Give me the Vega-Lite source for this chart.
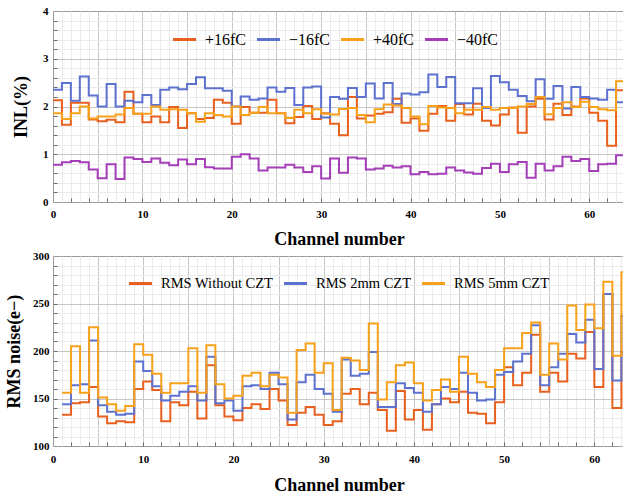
{
  "$schema": "https://vega.github.io/schema/vega-lite/v6.json",
  "padding": {"left": 5, "top": 4, "right": 0, "bottom": 0},
  "background": "white",
  "spacing": 0,
  "resolve": {"scale": {"color": "independent", "x": "independent", "y": "independent"}, "legend": {"color": "independent"}},
  "config": {
    "view": {"stroke": "#9a9a9a", "strokeWidth": 1},
    "axis": {"labelFont": "Liberation Serif", "labelFontWeight": "bold", "labelFontSize": 11, "labelColor": "#000", "titleFont": "Liberation Serif", "titleFontWeight": "bold", "titleFontSize": 18, "titleColor": "#000", "ticks": true, "tickColor": "#6a6a6a", "domain": false, "grid": true, "gridWidth": 1, "labelOverlap": false, "labelFlush": false, "labelBound": false},
    "legend": {"orient": "none", "direction": "horizontal", "title": null, "symbolType": "stroke", "symbolSize": 530, "symbolStrokeWidth": 3, "labelFont": "Liberation Serif", "labelColor": "#000", "labelOffset": 7, "columnPadding": 3, "gridAlign": "none"}
  },
  "datasets": {
    "inl": [
      {"s":"+16fC","ch":0,"v":2.13},{"s":"+16fC","ch":1,"v":1.62},{"s":"+16fC","ch":2,"v":2.08},{"s":"+16fC","ch":3,"v":2.08},{"s":"+16fC","ch":4,"v":1.73},{"s":"+16fC","ch":5,"v":1.69},{"s":"+16fC","ch":6,"v":1.72},{"s":"+16fC","ch":7,"v":1.67},{"s":"+16fC","ch":8,"v":2.31},{"s":"+16fC","ch":9,"v":1.85},
      {"s":"+16fC","ch":10,"v":1.67},{"s":"+16fC","ch":11,"v":1.79},{"s":"+16fC","ch":12,"v":1.67},{"s":"+16fC","ch":13,"v":1.99},{"s":"+16fC","ch":14,"v":1.55},{"s":"+16fC","ch":15,"v":1.86},{"s":"+16fC","ch":16,"v":1.74},{"s":"+16fC","ch":17,"v":1.76},{"s":"+16fC","ch":18,"v":2.14},{"s":"+16fC","ch":19,"v":2.08},
      {"s":"+16fC","ch":20,"v":1.64},{"s":"+16fC","ch":21,"v":1.99},{"s":"+16fC","ch":22,"v":1.87},{"s":"+16fC","ch":23,"v":1.87},{"s":"+16fC","ch":24,"v":2.14},{"s":"+16fC","ch":25,"v":1.86},{"s":"+16fC","ch":26,"v":1.65},{"s":"+16fC","ch":27,"v":1.78},{"s":"+16fC","ch":28,"v":2.01},{"s":"+16fC","ch":29,"v":1.74},
      {"s":"+16fC","ch":30,"v":1.86},{"s":"+16fC","ch":31,"v":1.64},{"s":"+16fC","ch":32,"v":1.40},{"s":"+16fC","ch":33,"v":2.20},{"s":"+16fC","ch":34,"v":1.75},{"s":"+16fC","ch":35,"v":1.81},{"s":"+16fC","ch":36,"v":1.85},{"s":"+16fC","ch":37,"v":1.88},{"s":"+16fC","ch":38,"v":2.16},{"s":"+16fC","ch":39,"v":1.66},
      {"s":"+16fC","ch":40,"v":1.75},{"s":"+16fC","ch":41,"v":1.49},{"s":"+16fC","ch":42,"v":1.85},{"s":"+16fC","ch":43,"v":2.01},{"s":"+16fC","ch":44,"v":1.70},{"s":"+16fC","ch":45,"v":2.05},{"s":"+16fC","ch":46,"v":1.83},{"s":"+16fC","ch":47,"v":2.06},{"s":"+16fC","ch":48,"v":1.70},{"s":"+16fC","ch":49,"v":1.60},
      {"s":"+16fC","ch":50,"v":1.83},{"s":"+16fC","ch":51,"v":1.98},{"s":"+16fC","ch":52,"v":1.45},{"s":"+16fC","ch":53,"v":2.00},{"s":"+16fC","ch":54,"v":2.16},{"s":"+16fC","ch":55,"v":1.73},{"s":"+16fC","ch":56,"v":2.06},{"s":"+16fC","ch":57,"v":1.82},{"s":"+16fC","ch":58,"v":2.00},{"s":"+16fC","ch":59,"v":2.17},
      {"s":"+16fC","ch":60,"v":1.87},{"s":"+16fC","ch":61,"v":1.70},{"s":"+16fC","ch":62,"v":1.18},{"s":"+16fC","ch":63,"v":2.34},{"s":"+16fC","ch":64,"v":2.34},
      {"s":"−16fC","ch":0,"v":2.35},{"s":"−16fC","ch":1,"v":2.49},{"s":"−16fC","ch":2,"v":2.12},{"s":"−16fC","ch":3,"v":2.63},{"s":"−16fC","ch":4,"v":2.23},{"s":"−16fC","ch":5,"v":2.00},{"s":"−16fC","ch":6,"v":2.47},{"s":"−16fC","ch":7,"v":2.00},{"s":"−16fC","ch":8,"v":2.12},{"s":"−16fC","ch":9,"v":2.09},
      {"s":"−16fC","ch":10,"v":2.24},{"s":"−16fC","ch":11,"v":2.03},{"s":"−16fC","ch":12,"v":2.35},{"s":"−16fC","ch":13,"v":2.40},{"s":"−16fC","ch":14,"v":2.36},{"s":"−16fC","ch":15,"v":2.47},{"s":"−16fC","ch":16,"v":2.61},{"s":"−16fC","ch":17,"v":2.38},{"s":"−16fC","ch":18,"v":2.38},{"s":"−16fC","ch":19,"v":2.33},
      {"s":"−16fC","ch":20,"v":2.00},{"s":"−16fC","ch":21,"v":2.21},{"s":"−16fC","ch":22,"v":2.14},{"s":"−16fC","ch":23,"v":2.17},{"s":"−16fC","ch":24,"v":2.40},{"s":"−16fC","ch":25,"v":2.31},{"s":"−16fC","ch":26,"v":2.39},{"s":"−16fC","ch":27,"v":2.03},{"s":"−16fC","ch":28,"v":2.40},{"s":"−16fC","ch":29,"v":2.42},
      {"s":"−16fC","ch":30,"v":1.77},{"s":"−16fC","ch":31,"v":2.20},{"s":"−16fC","ch":32,"v":2.16},{"s":"−16fC","ch":33,"v":2.39},{"s":"−16fC","ch":34,"v":2.20},{"s":"−16fC","ch":35,"v":2.48},{"s":"−16fC","ch":36,"v":2.17},{"s":"−16fC","ch":37,"v":2.49},{"s":"−16fC","ch":38,"v":2.05},{"s":"−16fC","ch":39,"v":2.27},
      {"s":"−16fC","ch":40,"v":2.25},{"s":"−16fC","ch":41,"v":2.30},{"s":"−16fC","ch":42,"v":2.67},{"s":"−16fC","ch":43,"v":2.41},{"s":"−16fC","ch":44,"v":2.62},{"s":"−16fC","ch":45,"v":2.07},{"s":"−16fC","ch":46,"v":2.07},{"s":"−16fC","ch":47,"v":2.38},{"s":"−16fC","ch":48,"v":1.97},{"s":"−16fC","ch":49,"v":2.64},
      {"s":"−16fC","ch":50,"v":2.51},{"s":"−16fC","ch":51,"v":2.35},{"s":"−16fC","ch":52,"v":2.22},{"s":"−16fC","ch":53,"v":2.11},{"s":"−16fC","ch":54,"v":2.57},{"s":"−16fC","ch":55,"v":2.16},{"s":"−16fC","ch":56,"v":2.43},{"s":"−16fC","ch":57,"v":1.96},{"s":"−16fC","ch":58,"v":2.41},{"s":"−16fC","ch":59,"v":2.20},
      {"s":"−16fC","ch":60,"v":2.17},{"s":"−16fC","ch":61,"v":2.14},{"s":"−16fC","ch":62,"v":2.35},{"s":"−16fC","ch":63,"v":2.09},{"s":"−16fC","ch":64,"v":2.09},
      {"s":"+40fC","ch":0,"v":1.86},{"s":"+40fC","ch":1,"v":1.74},{"s":"+40fC","ch":2,"v":1.86},{"s":"+40fC","ch":3,"v":2.00},{"s":"+40fC","ch":4,"v":1.75},{"s":"+40fC","ch":5,"v":1.79},{"s":"+40fC","ch":6,"v":1.79},{"s":"+40fC","ch":7,"v":1.83},{"s":"+40fC","ch":8,"v":1.97},{"s":"+40fC","ch":9,"v":1.85},
      {"s":"+40fC","ch":10,"v":1.85},{"s":"+40fC","ch":11,"v":2.00},{"s":"+40fC","ch":12,"v":1.93},{"s":"+40fC","ch":13,"v":1.94},{"s":"+40fC","ch":14,"v":1.93},{"s":"+40fC","ch":15,"v":1.86},{"s":"+40fC","ch":16,"v":1.68},{"s":"+40fC","ch":17,"v":1.86},{"s":"+40fC","ch":18,"v":1.82},{"s":"+40fC","ch":19,"v":1.79},
      {"s":"+40fC","ch":20,"v":2.00},{"s":"+40fC","ch":21,"v":1.82},{"s":"+40fC","ch":22,"v":1.87},{"s":"+40fC","ch":23,"v":1.99},{"s":"+40fC","ch":24,"v":1.86},{"s":"+40fC","ch":25,"v":1.86},{"s":"+40fC","ch":26,"v":1.76},{"s":"+40fC","ch":27,"v":1.93},{"s":"+40fC","ch":28,"v":1.86},{"s":"+40fC","ch":29,"v":1.94},
      {"s":"+40fC","ch":30,"v":1.85},{"s":"+40fC","ch":31,"v":1.83},{"s":"+40fC","ch":32,"v":1.95},{"s":"+40fC","ch":33,"v":1.97},{"s":"+40fC","ch":34,"v":1.82},{"s":"+40fC","ch":35,"v":1.67},{"s":"+40fC","ch":36,"v":1.94},{"s":"+40fC","ch":37,"v":2.04},{"s":"+40fC","ch":38,"v":2.02},{"s":"+40fC","ch":39,"v":1.97},
      {"s":"+40fC","ch":40,"v":1.79},{"s":"+40fC","ch":41,"v":1.63},{"s":"+40fC","ch":42,"v":2.01},{"s":"+40fC","ch":43,"v":1.98},{"s":"+40fC","ch":44,"v":1.97},{"s":"+40fC","ch":45,"v":1.86},{"s":"+40fC","ch":46,"v":1.93},{"s":"+40fC","ch":47,"v":1.93},{"s":"+40fC","ch":48,"v":1.99},{"s":"+40fC","ch":49,"v":1.93},
      {"s":"+40fC","ch":50,"v":1.97},{"s":"+40fC","ch":51,"v":1.97},{"s":"+40fC","ch":52,"v":2.00},{"s":"+40fC","ch":53,"v":2.05},{"s":"+40fC","ch":54,"v":2.20},{"s":"+40fC","ch":55,"v":1.84},{"s":"+40fC","ch":56,"v":1.97},{"s":"+40fC","ch":57,"v":2.09},{"s":"+40fC","ch":58,"v":1.99},{"s":"+40fC","ch":59,"v":2.10},
      {"s":"+40fC","ch":60,"v":1.99},{"s":"+40fC","ch":61,"v":1.94},{"s":"+40fC","ch":62,"v":1.92},{"s":"+40fC","ch":63,"v":2.53},{"s":"+40fC","ch":64,"v":2.53},
      {"s":"−40fC","ch":0,"v":0.78},{"s":"−40fC","ch":1,"v":0.83},{"s":"−40fC","ch":2,"v":0.86},{"s":"−40fC","ch":3,"v":0.83},{"s":"−40fC","ch":4,"v":0.68},{"s":"−40fC","ch":5,"v":0.50},{"s":"−40fC","ch":6,"v":0.79},{"s":"−40fC","ch":7,"v":0.48},{"s":"−40fC","ch":8,"v":0.93},{"s":"−40fC","ch":9,"v":0.90},
      {"s":"−40fC","ch":10,"v":0.84},{"s":"−40fC","ch":11,"v":0.91},{"s":"−40fC","ch":12,"v":0.82},{"s":"−40fC","ch":13,"v":0.77},{"s":"−40fC","ch":14,"v":0.89},{"s":"−40fC","ch":15,"v":0.79},{"s":"−40fC","ch":16,"v":0.90},{"s":"−40fC","ch":17,"v":0.73},{"s":"−40fC","ch":18,"v":0.70},{"s":"−40fC","ch":19,"v":0.70},
      {"s":"−40fC","ch":20,"v":0.95},{"s":"−40fC","ch":21,"v":1.00},{"s":"−40fC","ch":22,"v":0.91},{"s":"−40fC","ch":23,"v":0.66},{"s":"−40fC","ch":24,"v":0.72},{"s":"−40fC","ch":25,"v":0.72},{"s":"−40fC","ch":26,"v":0.78},{"s":"−40fC","ch":27,"v":0.72},{"s":"−40fC","ch":28,"v":0.63},{"s":"−40fC","ch":29,"v":0.75},
      {"s":"−40fC","ch":30,"v":0.49},{"s":"−40fC","ch":31,"v":0.91},{"s":"−40fC","ch":32,"v":0.61},{"s":"−40fC","ch":33,"v":0.93},{"s":"−40fC","ch":34,"v":0.91},{"s":"−40fC","ch":35,"v":0.68},{"s":"−40fC","ch":36,"v":0.70},{"s":"−40fC","ch":37,"v":0.76},{"s":"−40fC","ch":38,"v":0.72},{"s":"−40fC","ch":39,"v":0.75},
      {"s":"−40fC","ch":40,"v":0.58},{"s":"−40fC","ch":41,"v":0.63},{"s":"−40fC","ch":42,"v":0.58},{"s":"−40fC","ch":43,"v":0.59},{"s":"−40fC","ch":44,"v":0.72},{"s":"−40fC","ch":45,"v":0.66},{"s":"−40fC","ch":46,"v":0.62},{"s":"−40fC","ch":47,"v":0.59},{"s":"−40fC","ch":48,"v":0.71},{"s":"−40fC","ch":49,"v":0.80},
      {"s":"−40fC","ch":50,"v":0.63},{"s":"−40fC","ch":51,"v":0.79},{"s":"−40fC","ch":52,"v":0.84},{"s":"−40fC","ch":53,"v":0.51},{"s":"−40fC","ch":54,"v":0.80},{"s":"−40fC","ch":55,"v":0.66},{"s":"−40fC","ch":56,"v":0.75},{"s":"−40fC","ch":57,"v":0.95},{"s":"−40fC","ch":58,"v":0.86},{"s":"−40fC","ch":59,"v":0.90},
      {"s":"−40fC","ch":60,"v":0.65},{"s":"−40fC","ch":61,"v":0.79},{"s":"−40fC","ch":62,"v":0.80},{"s":"−40fC","ch":63,"v":0.98},{"s":"−40fC","ch":64,"v":0.98}
    ],
    "rms": [
      {"s":"RMS Without CZT","ch":1,"v":133},{"s":"RMS Without CZT","ch":2,"v":145},{"s":"RMS Without CZT","ch":3,"v":146},{"s":"RMS Without CZT","ch":4,"v":162},{"s":"RMS Without CZT","ch":5,"v":131},{"s":"RMS Without CZT","ch":6,"v":124},{"s":"RMS Without CZT","ch":7,"v":126},{"s":"RMS Without CZT","ch":8,"v":125},{"s":"RMS Without CZT","ch":9,"v":160},{"s":"RMS Without CZT","ch":10,"v":168},
      {"s":"RMS Without CZT","ch":11,"v":159},{"s":"RMS Without CZT","ch":12,"v":126},{"s":"RMS Without CZT","ch":13,"v":146},{"s":"RMS Without CZT","ch":14,"v":143},{"s":"RMS Without CZT","ch":15,"v":157},{"s":"RMS Without CZT","ch":16,"v":129},{"s":"RMS Without CZT","ch":17,"v":185},{"s":"RMS Without CZT","ch":18,"v":143},{"s":"RMS Without CZT","ch":19,"v":131},{"s":"RMS Without CZT","ch":20,"v":127},
      {"s":"RMS Without CZT","ch":21,"v":140},{"s":"RMS Without CZT","ch":22,"v":144},{"s":"RMS Without CZT","ch":23,"v":139},{"s":"RMS Without CZT","ch":24,"v":160},{"s":"RMS Without CZT","ch":25,"v":148},{"s":"RMS Without CZT","ch":26,"v":122},{"s":"RMS Without CZT","ch":27,"v":135},{"s":"RMS Without CZT","ch":28,"v":141},{"s":"RMS Without CZT","ch":29,"v":133},{"s":"RMS Without CZT","ch":30,"v":122},
      {"s":"RMS Without CZT","ch":31,"v":126},{"s":"RMS Without CZT","ch":32,"v":155},{"s":"RMS Without CZT","ch":33,"v":160},{"s":"RMS Without CZT","ch":34,"v":144},{"s":"RMS Without CZT","ch":35,"v":156},{"s":"RMS Without CZT","ch":36,"v":138},{"s":"RMS Without CZT","ch":37,"v":116},{"s":"RMS Without CZT","ch":38,"v":158},{"s":"RMS Without CZT","ch":39,"v":128},{"s":"RMS Without CZT","ch":40,"v":138},
      {"s":"RMS Without CZT","ch":41,"v":117},{"s":"RMS Without CZT","ch":42,"v":144},{"s":"RMS Without CZT","ch":43,"v":150},{"s":"RMS Without CZT","ch":44,"v":146},{"s":"RMS Without CZT","ch":45,"v":157},{"s":"RMS Without CZT","ch":46,"v":135},{"s":"RMS Without CZT","ch":47,"v":134},{"s":"RMS Without CZT","ch":48,"v":124},{"s":"RMS Without CZT","ch":49,"v":146},{"s":"RMS Without CZT","ch":50,"v":183},
      {"s":"RMS Without CZT","ch":51,"v":164},{"s":"RMS Without CZT","ch":52,"v":177},{"s":"RMS Without CZT","ch":53,"v":217},{"s":"RMS Without CZT","ch":54,"v":157},{"s":"RMS Without CZT","ch":55,"v":177},{"s":"RMS Without CZT","ch":56,"v":168},{"s":"RMS Without CZT","ch":57,"v":197},{"s":"RMS Without CZT","ch":58,"v":192},{"s":"RMS Without CZT","ch":59,"v":220},{"s":"RMS Without CZT","ch":60,"v":162},
      {"s":"RMS Without CZT","ch":61,"v":260},{"s":"RMS Without CZT","ch":62,"v":140},{"s":"RMS Without CZT","ch":63,"v":199},{"s":"RMS Without CZT","ch":64,"v":199},
      {"s":"RMS 2mm CZT","ch":1,"v":144},{"s":"RMS 2mm CZT","ch":2,"v":164},{"s":"RMS 2mm CZT","ch":3,"v":165},{"s":"RMS 2mm CZT","ch":4,"v":211},{"s":"RMS 2mm CZT","ch":5,"v":143},{"s":"RMS 2mm CZT","ch":6,"v":136},{"s":"RMS 2mm CZT","ch":7,"v":133},{"s":"RMS 2mm CZT","ch":8,"v":134},{"s":"RMS 2mm CZT","ch":9,"v":189},{"s":"RMS 2mm CZT","ch":10,"v":179},
      {"s":"RMS 2mm CZT","ch":11,"v":163},{"s":"RMS 2mm CZT","ch":12,"v":148},{"s":"RMS 2mm CZT","ch":13,"v":153},{"s":"RMS 2mm CZT","ch":14,"v":157},{"s":"RMS 2mm CZT","ch":15,"v":163},{"s":"RMS 2mm CZT","ch":16,"v":148},{"s":"RMS 2mm CZT","ch":17,"v":194},{"s":"RMS 2mm CZT","ch":18,"v":145},{"s":"RMS 2mm CZT","ch":19,"v":148},{"s":"RMS 2mm CZT","ch":20,"v":137},
      {"s":"RMS 2mm CZT","ch":21,"v":163},{"s":"RMS 2mm CZT","ch":22,"v":164},{"s":"RMS 2mm CZT","ch":23,"v":160},{"s":"RMS 2mm CZT","ch":24,"v":177},{"s":"RMS 2mm CZT","ch":25,"v":165},{"s":"RMS 2mm CZT","ch":26,"v":128},{"s":"RMS 2mm CZT","ch":27,"v":167},{"s":"RMS 2mm CZT","ch":28,"v":175},{"s":"RMS 2mm CZT","ch":29,"v":160},{"s":"RMS 2mm CZT","ch":30,"v":155},
      {"s":"RMS 2mm CZT","ch":31,"v":136},{"s":"RMS 2mm CZT","ch":32,"v":191},{"s":"RMS 2mm CZT","ch":33,"v":174},{"s":"RMS 2mm CZT","ch":34,"v":176},{"s":"RMS 2mm CZT","ch":35,"v":199},{"s":"RMS 2mm CZT","ch":36,"v":141},{"s":"RMS 2mm CZT","ch":37,"v":141},{"s":"RMS 2mm CZT","ch":38,"v":166},{"s":"RMS 2mm CZT","ch":39,"v":161},{"s":"RMS 2mm CZT","ch":40,"v":156},
      {"s":"RMS 2mm CZT","ch":41,"v":136},{"s":"RMS 2mm CZT","ch":42,"v":144},{"s":"RMS 2mm CZT","ch":43,"v":162},{"s":"RMS 2mm CZT","ch":44,"v":160},{"s":"RMS 2mm CZT","ch":45,"v":177},{"s":"RMS 2mm CZT","ch":46,"v":156},{"s":"RMS 2mm CZT","ch":47,"v":148},{"s":"RMS 2mm CZT","ch":48,"v":149},{"s":"RMS 2mm CZT","ch":49,"v":175},{"s":"RMS 2mm CZT","ch":50,"v":178},
      {"s":"RMS 2mm CZT","ch":51,"v":189},{"s":"RMS 2mm CZT","ch":52,"v":197},{"s":"RMS 2mm CZT","ch":53,"v":227},{"s":"RMS 2mm CZT","ch":54,"v":164},{"s":"RMS 2mm CZT","ch":55,"v":183},{"s":"RMS 2mm CZT","ch":56,"v":197},{"s":"RMS 2mm CZT","ch":57,"v":218},{"s":"RMS 2mm CZT","ch":58,"v":209},{"s":"RMS 2mm CZT","ch":59,"v":233},{"s":"RMS 2mm CZT","ch":60,"v":181},
      {"s":"RMS 2mm CZT","ch":61,"v":260},{"s":"RMS 2mm CZT","ch":62,"v":169},{"s":"RMS 2mm CZT","ch":63,"v":237},{"s":"RMS 2mm CZT","ch":64,"v":237},
      {"s":"RMS 5mm CZT","ch":1,"v":156},{"s":"RMS 5mm CZT","ch":2,"v":205},{"s":"RMS 5mm CZT","ch":3,"v":156},{"s":"RMS 5mm CZT","ch":4,"v":225},{"s":"RMS 5mm CZT","ch":5,"v":151},{"s":"RMS 5mm CZT","ch":6,"v":144},{"s":"RMS 5mm CZT","ch":7,"v":137},{"s":"RMS 5mm CZT","ch":8,"v":142},{"s":"RMS 5mm CZT","ch":9,"v":207},{"s":"RMS 5mm CZT","ch":10,"v":196},
      {"s":"RMS 5mm CZT","ch":11,"v":176},{"s":"RMS 5mm CZT","ch":12,"v":156},{"s":"RMS 5mm CZT","ch":13,"v":166},{"s":"RMS 5mm CZT","ch":14,"v":166},{"s":"RMS 5mm CZT","ch":15,"v":203},{"s":"RMS 5mm CZT","ch":16,"v":156},{"s":"RMS 5mm CZT","ch":17,"v":206},{"s":"RMS 5mm CZT","ch":18,"v":165},{"s":"RMS 5mm CZT","ch":19,"v":150},{"s":"RMS 5mm CZT","ch":20,"v":153},
      {"s":"RMS 5mm CZT","ch":21,"v":174},{"s":"RMS 5mm CZT","ch":22,"v":177},{"s":"RMS 5mm CZT","ch":23,"v":163},{"s":"RMS 5mm CZT","ch":24,"v":175},{"s":"RMS 5mm CZT","ch":25,"v":172},{"s":"RMS 5mm CZT","ch":26,"v":135},{"s":"RMS 5mm CZT","ch":27,"v":201},{"s":"RMS 5mm CZT","ch":28,"v":208},{"s":"RMS 5mm CZT","ch":29,"v":177},{"s":"RMS 5mm CZT","ch":30,"v":187},
      {"s":"RMS 5mm CZT","ch":31,"v":138},{"s":"RMS 5mm CZT","ch":32,"v":193},{"s":"RMS 5mm CZT","ch":33,"v":190},{"s":"RMS 5mm CZT","ch":34,"v":180},{"s":"RMS 5mm CZT","ch":35,"v":229},{"s":"RMS 5mm CZT","ch":36,"v":149},{"s":"RMS 5mm CZT","ch":37,"v":167},{"s":"RMS 5mm CZT","ch":38,"v":185},{"s":"RMS 5mm CZT","ch":39,"v":188},{"s":"RMS 5mm CZT","ch":40,"v":166},
      {"s":"RMS 5mm CZT","ch":41,"v":148},{"s":"RMS 5mm CZT","ch":42,"v":159},{"s":"RMS 5mm CZT","ch":43,"v":170},{"s":"RMS 5mm CZT","ch":44,"v":157},{"s":"RMS 5mm CZT","ch":45,"v":194},{"s":"RMS 5mm CZT","ch":46,"v":176},{"s":"RMS 5mm CZT","ch":47,"v":167},{"s":"RMS 5mm CZT","ch":48,"v":162},{"s":"RMS 5mm CZT","ch":49,"v":180},{"s":"RMS 5mm CZT","ch":50,"v":203},
      {"s":"RMS 5mm CZT","ch":51,"v":203},{"s":"RMS 5mm CZT","ch":52,"v":219},{"s":"RMS 5mm CZT","ch":53,"v":230},{"s":"RMS 5mm CZT","ch":54,"v":175},{"s":"RMS 5mm CZT","ch":55,"v":208},{"s":"RMS 5mm CZT","ch":56,"v":191},{"s":"RMS 5mm CZT","ch":57,"v":248},{"s":"RMS 5mm CZT","ch":58,"v":222},{"s":"RMS 5mm CZT","ch":59,"v":249},{"s":"RMS 5mm CZT","ch":60,"v":224},
      {"s":"RMS 5mm CZT","ch":61,"v":273},{"s":"RMS 5mm CZT","ch":62,"v":195},{"s":"RMS 5mm CZT","ch":63,"v":283},{"s":"RMS 5mm CZT","ch":64,"v":283}
    ]
  },
  "vconcat": [
    {
      "width": 572,
      "height": 191,
      "data": {"name": "inl"},
      "mark": {"type": "line", "interpolate": "step-after", "strokeWidth": 2, "clip": true},
      "encoding": {
        "x": {
          "field": "ch", "type": "quantitative",
          "scale": {"domain": [0, 64], "nice": false, "zero": false},
          "axis": {
            "values": [0,1,2,3,4,5,6,7,8,9,10,11,12,13,14,15,16,17,18,19,20,21,22,23,24,25,26,27,28,29,30,31,32,33,34,35,36,37,38,39,40,41,42,43,44,45,46,47,48,49,50,51,52,53,54,55,56,57,58,59,60,61,62,63,64],
            "labelExpr": "datum.value % 10 === 0 ? '' + datum.value : ''",
            "gridColor": {"condition": {"test": "datum.value % 5 === 0", "value": "#c6c6c6"}, "value": "#ebebeb"},
            "gridOpacity": {"condition": {"test": "datum.value === 0 || datum.value === 64", "value": 0}, "value": 1},
            "tickSize": -4,
            "tickOpacity": {"condition": {"test": "datum.value % 2 === 0 && datum.value > 0 && datum.value < 64", "value": 1}, "value": 0},
            "title": "Channel number",
            "labelPadding": 10,
            "titlePadding": 11
          }
        },
        "y": {
          "field": "v", "type": "quantitative",
          "scale": {"domain": [0, 4], "nice": false},
          "axis": {
            "values": [0,0.2,0.4,0.6,0.8,1,1.2,1.4,1.6,1.8,2,2.2,2.4,2.6,2.8,3,3.2,3.4,3.6,3.8,4],
            "labelExpr": "datum.value % 1 === 0 ? '' + datum.value : ''",
            "gridColor": {"condition": {"test": "datum.value % 1 === 0", "value": "#c6c6c6"}, "value": "#ebebeb"},
            "gridOpacity": {"condition": {"test": "datum.value === 0 || datum.value === 4", "value": 0}, "value": 1},
            "tickSize": -4,
            "tickOpacity": {"condition": {"test": "datum.value === 0 || datum.value === 4", "value": 0}, "value": 1},
            "title": "INL(%)",
            "labelPadding": 9,
            "titlePadding": 12
          }
        },
        "color": {
          "field": "s", "type": "nominal",
          "scale": {"domain": ["+16fC", "−16fC", "+40fC", "−40fC"], "range": ["#e8601e", "#5d72cf", "#f7a11b", "#a43fb8"]},
          "legend": {"legendX": 118, "legendY": 15, "labelFontSize": 16}
        }
      }
    },
    {
      "width": 572,
      "height": 190,
      "data": {"name": "rms"},
      "mark": {"type": "line", "interpolate": "step-after", "strokeWidth": 2, "clip": true},
      "encoding": {
        "x": {
          "field": "ch", "type": "quantitative",
          "scale": {"domain": [0, 63.4], "nice": false, "zero": false},
          "axis": {
            "values": [0,1,2,3,4,5,6,7,8,9,10,11,12,13,14,15,16,17,18,19,20,21,22,23,24,25,26,27,28,29,30,31,32,33,34,35,36,37,38,39,40,41,42,43,44,45,46,47,48,49,50,51,52,53,54,55,56,57,58,59,60,61,62,63],
            "labelExpr": "datum.value % 10 === 0 ? '' + datum.value : ''",
            "gridColor": {"condition": {"test": "datum.value % 5 === 0", "value": "#c6c6c6"}, "value": "#ebebeb"},
            "gridOpacity": {"condition": {"test": "datum.value === 0", "value": 0}, "value": 1},
            "tickSize": -4,
            "tickOpacity": {"condition": {"test": "datum.value % 2 === 0 && datum.value > 0", "value": 1}, "value": 0},
            "title": "Channel number",
            "labelPadding": 11,
            "titlePadding": 12
          }
        },
        "y": {
          "field": "v", "type": "quantitative",
          "scale": {"domain": [100, 300], "nice": false, "zero": false},
          "axis": {
            "values": [100,110,120,130,140,150,160,170,180,190,200,210,220,230,240,250,260,270,280,290,300],
            "labelExpr": "datum.value % 50 === 0 ? '' + datum.value : ''",
            "gridColor": {"condition": {"test": "datum.value % 50 === 0", "value": "#c6c6c6"}, "value": "#ebebeb"},
            "gridOpacity": {"condition": {"test": "datum.value === 100 || datum.value === 300", "value": 0}, "value": 1},
            "tickSize": -4,
            "tickOpacity": {"condition": {"test": "datum.value === 100 || datum.value === 300", "value": 0}, "value": 1},
            "title": "RMS noise(e−)",
            "labelPadding": 8,
            "titlePadding": 9
          }
        },
        "color": {
          "field": "s", "type": "nominal",
          "scale": {"domain": ["RMS Without CZT", "RMS 2mm CZT", "RMS 5mm CZT"], "range": ["#e8601e", "#5d72cf", "#f7a11b"]},
          "legend": {"legendX": 74, "legendY": 14, "labelFontSize": 14.5}
        }
      }
    }
  ]
}
